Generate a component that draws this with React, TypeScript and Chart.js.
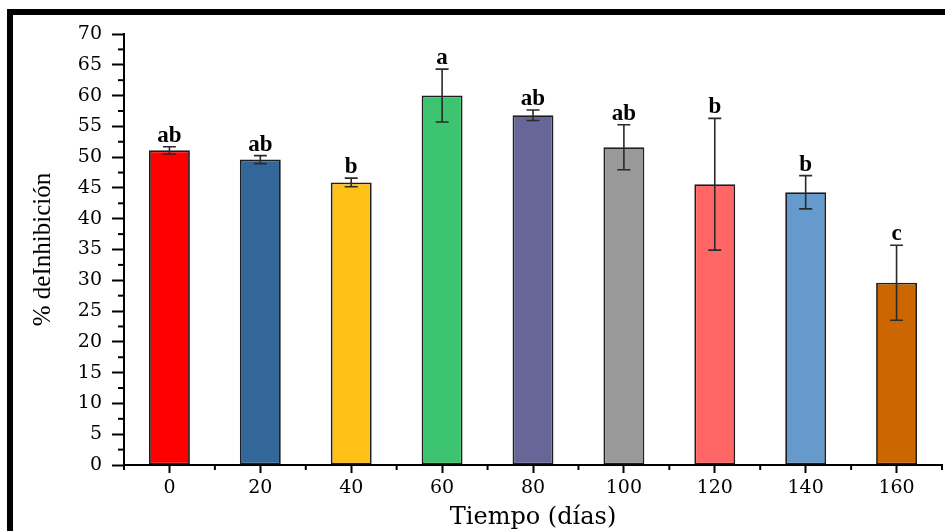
import { useEffect, useRef } from 'react';
import { Chart, registerables } from 'chart.js';
Chart.register(...registerables);

const categories = ['0', '20', '40', '60', '80', '100', '120', '140', '160'];
const means = [51.1, 49.6, 45.9, 60.0, 56.8, 51.6, 45.6, 44.3, 29.6];
const errors = [0.6, 0.65, 0.7, 4.3, 0.85, 3.65, 10.7, 2.7, 6.1];
const letters = ['ab', 'ab', 'b', 'a', 'ab', 'ab', 'b', 'b', 'c'];
const barColors = ['#FF0000', '#336699', '#FFC116', '#3CC470', '#666699', '#999999', '#FF6666', '#6699CC', '#CC6600'];
const yMin = 0;
const yMax = 70;
const yStep = 5;

const minorTicks = {
  id: 'minorTicks',
  afterDraw(chart: any) {
    const { ctx } = chart;
    const xs = chart.scales.x;
    const ys = chart.scales.y;
    ctx.save();
    ctx.strokeStyle = '#000';
    ctx.lineWidth = 2;
    for (let v = yMin + yStep / 2; v < yMax; v += yStep) {
      const py = ys.getPixelForValue(v);
      ctx.beginPath();
      ctx.moveTo(ys.right - 6, py);
      ctx.lineTo(ys.right, py);
      ctx.stroke();
    }
    for (let i = 0; i <= categories.length; i++) {
      const px = xs.getPixelForValue(i - 0.5);
      ctx.beginPath();
      ctx.moveTo(px, xs.top);
      ctx.lineTo(px, xs.top + 5);
      ctx.stroke();
    }
    ctx.restore();
  },
};

const errorBars = {
  id: 'errorBars',
  afterDatasetsDraw(chart: any) {
    const { ctx } = chart;
    const ys = chart.scales.y;
    const meta = chart.getDatasetMeta(0);
    ctx.save();
    meta.data.forEach((bar: any, i: number) => {
      const x = bar.x;
      const top = ys.getPixelForValue(means[i] + errors[i]);
      const bot = ys.getPixelForValue(means[i] - errors[i]);
      ctx.strokeStyle = '#2a2a2a';
      ctx.lineWidth = 1.6;
      ctx.beginPath();
      ctx.moveTo(x, top);
      ctx.lineTo(x, bot);
      ctx.moveTo(x - 6.5, top);
      ctx.lineTo(x + 6.5, top);
      ctx.moveTo(x - 6.5, bot);
      ctx.lineTo(x + 6.5, bot);
      ctx.stroke();
      ctx.fillStyle = '#000';
      ctx.font = 'bold 23px "Liberation Serif"';
      ctx.textAlign = 'center';
      ctx.textBaseline = 'alphabetic';
      ctx.fillText(letters[i], x, top - 5);
    });
    ctx.restore();
  },
};

export default function App() {
  const ref = useRef<HTMLCanvasElement>(null);
  useEffect(() => {
    if (!ref.current) return;
    const chart = new Chart(ref.current, {
      type: 'bar',
      data: {
        labels: categories,
        datasets: [
          {
            data: means,
            backgroundColor: barColors,
            borderColor: '#1e1e1e',
            borderWidth: 1.8,
            borderSkipped: false,
            barPercentage: 0.45,
            categoryPercentage: 1,
          },
        ],
      },
      options: {
        animation: false,
        responsive: false,
        maintainAspectRatio: false,
        layout: { padding: { top: 34, right: 3, left: 0, bottom: 0 } },
        plugins: { legend: { display: false }, tooltip: { enabled: false } },
        scales: {
          x: {
            offset: true,
            grid: { display: true, offset: false, drawOnChartArea: false, drawTicks: true, tickLength: 8, tickWidth: 2, tickColor: '#000' },
            border: { display: true, color: '#000', width: 2 },
            ticks: { color: '#000', padding: 4, font: { family: '"DejaVu Serif"', size: 19 }, maxRotation: 0 },
            title: { display: true, text: 'Tiempo (días)', color: '#000', font: { family: '"DejaVu Serif"', size: 24, lineHeight: 1.1 }, padding: { top: 0, bottom: 0 } },
            afterFit: (s: any) => { s.height = 66; },
          },
          y: {
            min: yMin,
            max: yMax,
            ticks: { stepSize: yStep, color: '#000', padding: 10, font: { family: '"DejaVu Serif"', size: 19 } },
            grid: { display: true, drawOnChartArea: false, drawTicks: true, tickLength: 12, tickWidth: 2, tickColor: '#000' },
            border: { display: true, color: '#000', width: 2 },
            title: { display: true, text: '% deInhibición', color: '#000', font: { family: '"Liberation Serif"', size: 25 }, padding: { top: 28, bottom: 0 } },
            afterFit: (s: any) => { s.width = 124; },
          },
        },
      },
      plugins: [minorTicks, errorBars],
    });
    return () => chart.destroy();
  }, []);
  return (
    <div style={{ position: 'fixed', left: 0, top: 0, width: 945, height: 531, background: '#fff', overflow: 'hidden' }}>
      <canvas ref={ref} width={945} height={531} style={{ position: 'absolute', left: 0, top: 0 }} />
      <div style={{ position: 'absolute', left: 7, top: 9, width: 960, height: 560, borderTop: '6px solid #000', borderLeft: '6px solid #000', pointerEvents: 'none' }} />
    </div>
  );
}
